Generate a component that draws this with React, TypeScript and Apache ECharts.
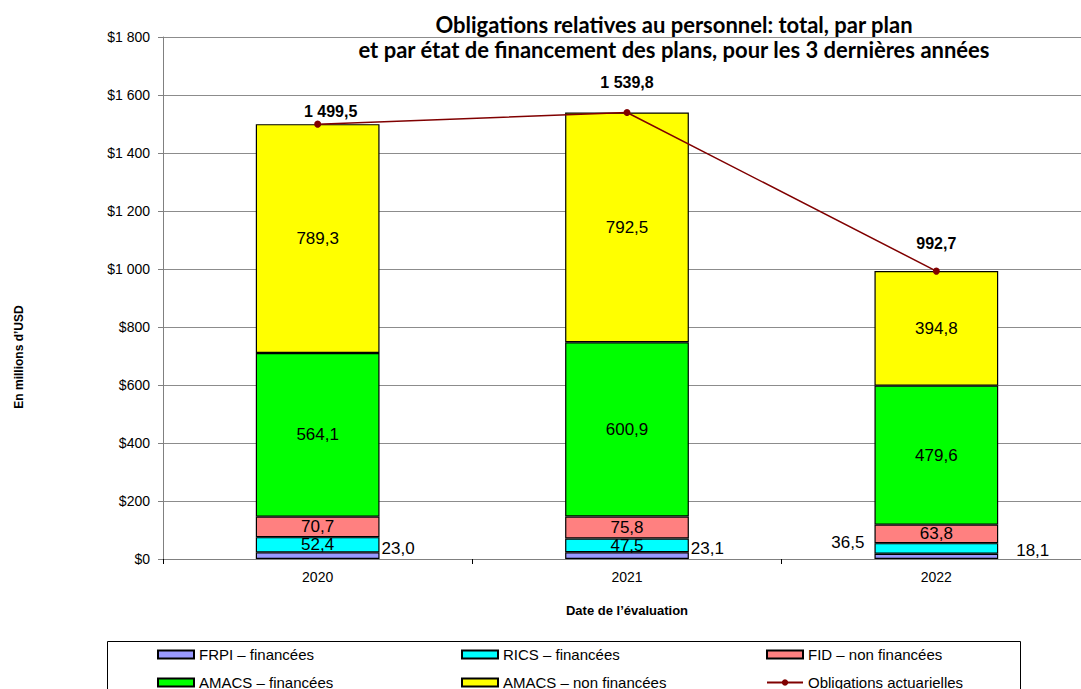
import React, { useEffect, useRef } from "react";
import * as echarts from "echarts";

const categories = ["2020", "2021", "2022"];
const frpi = [23.0, 23.1, 18.1];
const rics = [52.4, 47.5, 36.5];
const fid = [70.7, 75.8, 63.8];
const amacsFin = [564.1, 600.9, 479.6];
const amacsNonFin = [789.3, 792.5, 394.8];
const totals = [1499.5, 1539.8, 992.7];

const seriesNames = [
  "FRPI – financées",
  "RICS – financées",
  "FID – non financées",
  "AMACS – financées",
  "AMACS – non financées",
  "Obligations actuarielles",
];

const titleText =
  "Obligations relatives au personnel: total, par plan\net par état de financement des plans, pour les 3 dernières années";

const fmt = (v: number) => {
  const [i, d] = v.toFixed(1).split(".");
  return i.replace(/\B(?=(\d{3})+(?!\d))/g, " ") + "," + d;
};
const fmtAxis = (v: number) =>
  "$" + String(v).replace(/\B(?=(\d{3})+(?!\d))/g, " ");

const FONT = "'Liberation Sans', Arial, sans-serif";

export default function App() {
  const ref = useRef<HTMLDivElement>(null);
  useEffect(() => {
    if (!ref.current) return;
    const chart = echarts.init(ref.current, undefined, { renderer: "svg" });
    const barBase = {
      type: "bar" as const,
      stack: "total",
      barWidth: "40%",
      itemStyle: { borderColor: "#000", borderWidth: 1.2 },
      label: {
        show: true,
        position: "inside" as const,
        color: "#000",
        fontSize: 17,
        fontFamily: FONT,
        formatter: (p: any) => fmt(p.value),
      },
    };
    // style-only label overrides for the small segments
    const frpiLabel = [
      { distance: 2, offset: [0, -7] },
      { distance: 2, offset: [0, -7] },
      { distance: 18, offset: [0, -6] },
    ];
    const ricsLabel = [null, null, { position: "left", distance: 10, offset: [0, -6] }];
    const lineLabel = [[13, 4], [0, -13], [0, -11]];

    // legend slots: [series index, left, top]
    const legendSlots: [number, number, number][] = [
      [0, 157, 647],
      [1, 461, 647],
      [2, 766, 647],
      [3, 157, 675],
      [4, 461, 675],
      [5, 766, 675],
    ];

    chart.setOption({
      animation: false,
      textStyle: { fontFamily: FONT },
      title: {
        text: titleText,
        left: 674,
        top: 12,
        textAlign: "center",
        padding: 0,
        textStyle: {
          fontFamily: "Lato, sans-serif",
          fontWeight: "bold",
          fontSize: 22,
          lineHeight: 25,
          color: "#000",
        },
      },
      grid: { left: 163, right: 0, top: 37, bottom: 130 },
      xAxis: {
        type: "category",
        data: categories,
        name: "Date de l’évaluation",
        nameLocation: "middle",
        nameGap: 45,
        nameTextStyle: { fontWeight: "bold", fontSize: 13, color: "#000", fontFamily: FONT },
        axisLine: { lineStyle: { color: "#808080", width: 1 } },
        axisTick: { show: true, length: 5, lineStyle: { color: "#000" } },
        axisLabel: { color: "#000", fontSize: 14, margin: 11, fontFamily: FONT },
      },
      yAxis: {
        type: "value",
        min: 0,
        max: 1800,
        interval: 200,
        axisLine: { show: true, lineStyle: { color: "#808080", width: 1 } },
        axisTick: { show: true, length: 5, lineStyle: { color: "#808080" } },
        axisLabel: {
          color: "#000",
          fontSize: 14,
          margin: 13,
          fontFamily: FONT,
          formatter: (v: number) => fmtAxis(v),
        },
        splitLine: { lineStyle: { color: "#8c8c8c", width: 1 } },
      },
      legend: legendSlots.map(([si, left, top]) => ({
        left,
        top,
        padding: 0,
        itemWidth: 36,
        itemHeight: 8,
        textStyle: { fontSize: 15, color: "#000", fontFamily: FONT },
        data: [si < 5 ? { name: seriesNames[si], icon: "rect" } : { name: seriesNames[si] }],
      })),
      graphic: [
        {
          type: "rect",
          shape: { x: 107.5, y: 641.5, width: 913, height: 70 },
          style: { fill: "none", stroke: "#000", lineWidth: 1 },
          silent: true,
        },
        {
          type: "text",
          x: 19,
          y: 357,
          rotation: Math.PI / 2,
          style: {
            text: "En millions d’USD",
            fontFamily: FONT,
            fontWeight: "bold",
            fontSize: 12,
            fill: "#000",
            align: "center",
            verticalAlign: "middle",
          },
        },
      ],
      series: [
        {
          ...barBase,
          name: seriesNames[0],
          itemStyle: { ...barBase.itemStyle, color: "#9999FF" },
          label: { ...barBase.label, position: "right" },
          data: frpi.map((v, i) => ({ value: v, label: frpiLabel[i] })),
        },
        {
          ...barBase,
          name: seriesNames[1],
          itemStyle: { ...barBase.itemStyle, color: "#00FFFF" },
          data: rics.map((v, i) => (ricsLabel[i] ? { value: v, label: ricsLabel[i] } : v)),
        },
        {
          ...barBase,
          name: seriesNames[2],
          itemStyle: { ...barBase.itemStyle, color: "#FF8080" },
          data: fid,
        },
        {
          ...barBase,
          name: seriesNames[3],
          itemStyle: { ...barBase.itemStyle, color: "#00FF00" },
          data: amacsFin,
        },
        {
          ...barBase,
          name: seriesNames[4],
          itemStyle: { ...barBase.itemStyle, color: "#FFFF00" },
          data: amacsNonFin,
        },
        {
          type: "line",
          name: seriesNames[5],
          symbol: "circle",
          symbolSize: 7,
          lineStyle: { color: "#800000", width: 1.5 },
          itemStyle: { color: "#800000" },
          z: 5,
          label: {
            show: true,
            position: "top",
            color: "#000",
            fontWeight: "bold",
            fontSize: 16,
            fontFamily: FONT,
            formatter: (p: any) => fmt(p.value),
          },
          data: totals.map((v, i) => ({ value: v, label: { offset: lineLabel[i] } })),
        },
      ],
    });
    return () => chart.dispose();
  }, []);
  return (
    <div
      ref={ref}
      style={{ position: "fixed", left: 0, top: 0, width: 1091, height: 689, background: "#fff" }}
    />
  );
}
